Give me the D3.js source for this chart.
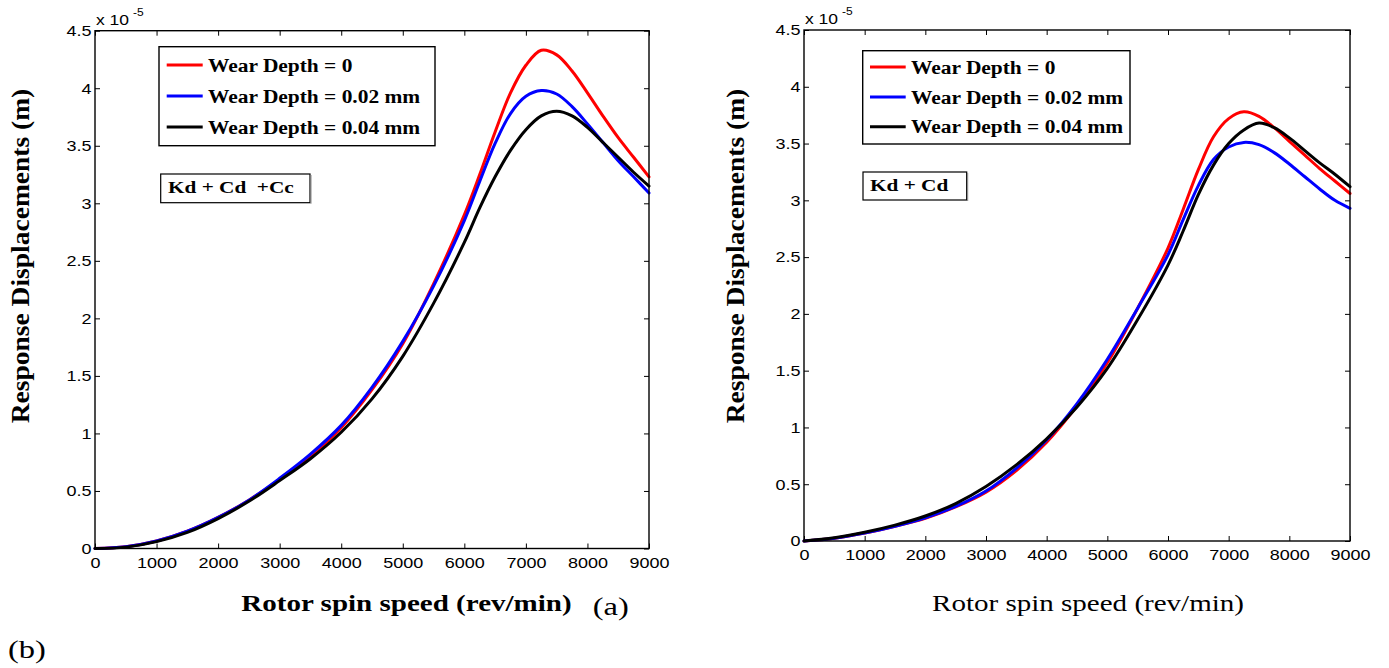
<!DOCTYPE html>
<html><head><meta charset="utf-8">
<script src="https://cdn.jsdelivr.net/npm/d3@7"></script>
<style>body{margin:0;background:#fff} svg{display:block}</style>
</head><body>
<svg id="c" width="1389" height="668"></svg>
<script>
// ---------- data (values in units of 1e-5 m) ----------
const speed   = [0,500,1000,1500,2000,2500,3000,3500,4000,4500,5000,5500,6000,6250,6500,6750,7000,7250,7500,7750,8000,8250,8500,8750,9000];
const redA    = [0,0.015,0.065,0.15,0.27,0.42,0.60,0.80,1.05,1.38,1.78,2.30,2.90,3.25,3.62,3.96,4.20,4.33,4.29,4.15,3.96,3.76,3.57,3.40,3.23];
const blueA   = [0,0.015,0.065,0.15,0.27,0.42,0.61,0.82,1.07,1.40,1.80,2.28,2.85,3.19,3.52,3.78,3.93,3.98,3.95,3.84,3.69,3.53,3.37,3.23,3.09];
const blackA  = [0,0.012,0.06,0.14,0.26,0.41,0.59,0.78,1.01,1.30,1.67,2.13,2.66,2.96,3.23,3.46,3.64,3.76,3.80,3.76,3.66,3.53,3.40,3.27,3.15];
const redB    = [0,0.025,0.07,0.13,0.20,0.30,0.43,0.62,0.87,1.19,1.57,2.05,2.58,2.92,3.27,3.56,3.72,3.78,3.74,3.64,3.52,3.40,3.28,3.17,3.06];
const blueB   = [0,0.025,0.07,0.13,0.205,0.305,0.44,0.64,0.89,1.21,1.60,2.05,2.52,2.83,3.13,3.36,3.47,3.51,3.49,3.42,3.32,3.21,3.10,3.00,2.93];
const blackB  = [0,0.028,0.077,0.14,0.22,0.33,0.48,0.67,0.90,1.18,1.52,1.95,2.43,2.73,3.05,3.31,3.50,3.62,3.68,3.64,3.55,3.44,3.33,3.23,3.12];
const xTicks  = [0,1000,2000,3000,4000,5000,6000,7000,8000,9000];
const yTicks  = [0,0.5,1,1.5,2,2.5,3,3.5,4,4.5];
const legendLabels = ["Wear Depth = 0","Wear Depth = 0.02 mm","Wear Depth = 0.04 mm"];
const seriesColors = ["#ff0000","#0000ff","#000000"];
const annotations  = ["Kd + Cd  +Cc","Kd + Cd"];
const yLabel = "Response Displacements (m)";
const xLabel = "Rotor spin speed (rev/min)";
const panelTags = ["(a)","(b)"];

// ---------- layout ----------
const SERIF = "'Liberation Serif','Times New Roman',serif";
const SANS  = "'Liberation Sans',Arial,sans-serif";
const svg = d3.select("#c");

function txt(g, x, y, s, o) {
  return g.append("text")
    .attr("transform", `translate(${x},${y})${o.rot ? ` rotate(${o.rot})` : ""} scale(${o.sx||1},${o.sy||1})`)
    .attr("font-family", o.fam || SERIF)
    .attr("font-size", o.size)
    .attr("font-weight", o.w || "normal")
    .attr("text-anchor", o.anchor || "start")
    .attr("fill", "#000")
    .style("white-space", "pre")
    .text(s);
}

const panels = [
  { x0:95, x1:649, y0:548.5, y1:30.7, series:[redA,blueA,blackA], ann:annotations[0],
    leg:{x:159, y:46.7, w:276, h:99, lx0:166.7, lx1:202.7, tx:208, rows:[65,96,127]},
    annBox:{x:160.7, y:174, w:149.3, h:28.7, tx:168, ty:193.3},
    yl:{x:29, y:256}, xl:{x:406.5, y:611, w:"bold"}, exp:{x:96, y:25} },
  { x0:804, x1:1350, y0:541, y1:30, series:[redB,blueB,blackB], ann:annotations[1],
    leg:{x:862.7, y:50.7, w:267.3, h:93.3, lx0:870, lx1:905.7, tx:911, rows:[67,97,126.7]},
    annBox:{x:863, y:172, w:103.7, h:28, tx:870, ty:191},
    yl:{x:744, y:256}, xl:{x:1088, y:611, w:"normal"}, exp:{x:805, y:24} }
];

panels.forEach((p, pi) => {
  const g = svg.append("g");
  const x = d3.scaleLinear().domain([0, 9000]).range([p.x0, p.x1]);
  const y = d3.scaleLinear().domain([0, 4.5]).range([p.y0, p.y1]);

  const styleAxis = a => {
    a.select(".domain").remove();
    a.selectAll(".tick line").attr("stroke", "#000").attr("stroke-width", 1);
  };
  const gb = g.append("g").attr("transform", `translate(0,${p.y0})`)
    .call(d3.axisBottom(x).tickValues(xTicks).tickFormat(d3.format("d")).tickSizeInner(-5).tickSizeOuter(0).tickPadding(8.5));
  styleAxis(gb);
  gb.selectAll(".tick text").attr("font-family", SANS).attr("font-size", 15).attr("fill", "#000").attr("transform", "scale(1.2,1)");
  const gl = g.append("g").attr("transform", `translate(${p.x0},0)`)
    .call(d3.axisLeft(y).tickValues(yTicks).tickFormat(d3.format("~g")).tickSizeInner(-5).tickSizeOuter(0).tickPadding(3));
  styleAxis(gl);
  gl.selectAll(".tick text").attr("font-family", SANS).attr("font-size", 15).attr("fill", "#000").attr("transform", "scale(1.2,1)");
  const gt = g.append("g").attr("transform", `translate(0,${p.y1})`)
    .call(d3.axisTop(x).tickValues(xTicks).tickFormat("").tickSizeInner(-5).tickSizeOuter(0));
  styleAxis(gt);
  const gr = g.append("g").attr("transform", `translate(${p.x1},0)`)
    .call(d3.axisRight(y).tickValues(yTicks).tickFormat("").tickSizeInner(-5).tickSizeOuter(0));
  styleAxis(gr);

  // curves
  const line = d3.line().x((d, i) => x(speed[i])).y(d => y(d)).curve(d3.curveCatmullRom.alpha(0.5));
  p.series.forEach((s, si) => {
    g.append("path").datum(s).attr("d", line)
      .attr("fill", "none").attr("stroke", seriesColors[si]).attr("stroke-width", 3)
      .attr("stroke-linejoin", "round").attr("stroke-linecap", "round");
  });

  // box
  g.append("rect").attr("x", p.x0).attr("y", p.y1).attr("width", p.x1 - p.x0).attr("height", p.y0 - p.y1)
    .attr("fill", "none").attr("stroke", "#000").attr("stroke-width", 1.4);

  // exponent
  txt(g, p.exp.x, p.exp.y, "x 10", {fam: SANS, size: 14, sx: 1.25});
  txt(g, p.exp.x + 37, p.exp.y - 9, "-5", {fam: SANS, size: 10, sx: 1.2});

  // legend
  const L = p.leg;
  g.append("rect").attr("x", L.x).attr("y", L.y).attr("width", L.w).attr("height", L.h)
    .attr("fill", "#fff").attr("stroke", "#000").attr("stroke-width", 1.4);
  legendLabels.forEach((lab, i) => {
    g.append("line").attr("x1", L.lx0).attr("x2", L.lx1).attr("y1", L.rows[i]).attr("y2", L.rows[i])
      .attr("stroke", seriesColors[i]).attr("stroke-width", 3);
    txt(g, L.tx, L.rows[i] + 6.5, lab, {size: 18, w: "bold", sx: 1.19});
  });

  // annotation
  const A = p.annBox;
  g.append("rect").attr("x", A.x).attr("y", A.y).attr("width", A.w).attr("height", A.h)
    .attr("fill", "#fff").attr("stroke", "#000").attr("stroke-width", 1.2);
  g.append("line").attr("x1", A.x + A.w + 1).attr("x2", A.x + A.w + 1).attr("y1", A.y + 1).attr("y2", A.y + A.h + 1)
    .attr("stroke", "#888").attr("stroke-width", 1);
  txt(g, A.tx, A.ty, p.ann, {size: 17, w: "bold", sx: 1.25});

  // axis labels
  txt(g, p.yl.x, p.yl.y, yLabel, {size: 27.5, w: "bold", anchor: "middle", rot: -90, sy: 0.9});
  txt(g, p.xl.x, p.xl.y, xLabel, {size: 24, w: p.xl.w, anchor: "middle", sx: 1.21});
});

txt(svg, 592.7, 614.5, panelTags[0], {size: 25, sx: 1.3});
txt(svg, 8, 658, panelTags[1], {size: 25, sx: 1.3});
</script>
</body></html>
